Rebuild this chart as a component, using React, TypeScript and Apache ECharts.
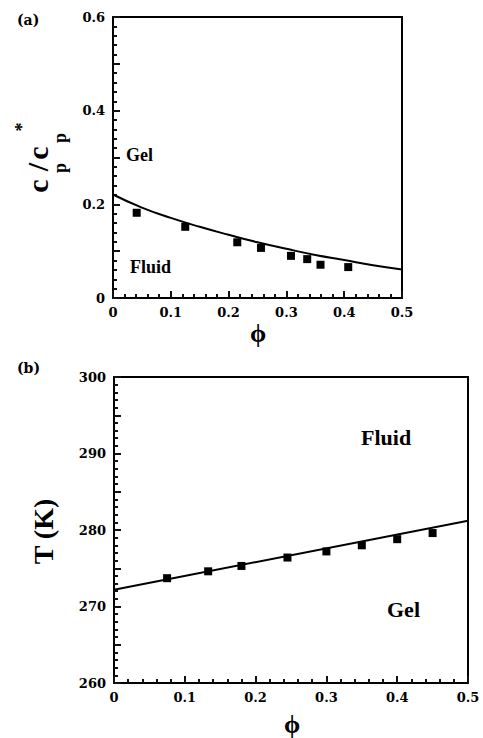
import React, { useEffect, useRef } from "react";
import * as echarts from "echarts";

// Panel (a): polymer concentration ratio vs volume fraction
const phiPointsA = [0.041, 0.125, 0.215, 0.256, 0.308, 0.336, 0.359, 0.407];
const ratioPointsA = [0.182, 0.152, 0.119, 0.107, 0.09, 0.083, 0.071, 0.066];
const phiCurveA = [0, 0.05, 0.1, 0.15, 0.2, 0.25, 0.3, 0.35, 0.4, 0.45, 0.5];
const ratioCurveA = [0.221, 0.193, 0.171, 0.152, 0.135, 0.119, 0.105, 0.092, 0.081, 0.07, 0.061];

// Panel (b): temperature vs volume fraction
const phiPointsB = [0.075, 0.133, 0.18, 0.245, 0.3, 0.35, 0.4, 0.45];
const tempPointsB = [273.7, 274.6, 275.3, 276.4, 277.2, 278.0, 278.8, 279.6];
const phiLineB = [0, 0.5];
const tempLineB = [272.2, 281.2];

const TICK_FONT = "DejaVu Serif";
const LABEL_FONT = "Liberation Serif";

function zip(a: number[], b: number[]) {
  return a.map((v, i) => [v, b[i]]);
}

export default function App() {
  const ref = useRef<HTMLDivElement>(null);
  useEffect(() => {
    document.body.style.margin = "0";
    if (!ref.current) return;
    const chart = echarts.init(ref.current, undefined, { renderer: "svg" });

    const mkAxis = (gridIndex: number, min: number, max: number, interval: number, formatter?: (v: number) => string) => {
      const label: any = { fontFamily: TICK_FONT, fontWeight: "bold", fontSize: 13, color: "#000" };
      if (formatter) label.formatter = formatter;
      return {
        type: "value",
        gridIndex,
        min,
        max,
        interval,
        axisLine: { show: true, lineStyle: { color: "#000", width: 2 } },
        axisTick: { show: true, inside: true, length: 7, lineStyle: { color: "#111", width: 2 } },
        minorTick: { show: true, splitNumber: 5, length: 4, lineStyle: { color: "#111", width: 2 } },
        splitLine: { show: false },
        axisLabel: label,
      };
    };

    const frameAxis = (gridIndex: number, min: number, max: number, position: string) => ({
      type: "value",
      gridIndex,
      min,
      max,
      position,
      axisLine: { show: true, onZero: false, lineStyle: { color: "#000", width: 2 } },
      axisTick: { show: false },
      axisLabel: { show: false },
      splitLine: { show: false },
    });

    const rotText = (text: string, x: number, y: number, size: number) => ({
      type: "text",
      x,
      y,
      rotation: Math.PI / 2,
      style: {
        text,
        fill: "#000",
        fontFamily: LABEL_FONT,
        fontWeight: "bold",
        fontSize: size,
        align: "center",
        verticalAlign: "middle",
      },
    });

    const plainText = (text: string, x: number, y: number, size: number, family = LABEL_FONT, align = "left") => ({
      type: "text",
      x,
      y,
      style: {
        text,
        fill: "#000",
        fontFamily: family,
        fontWeight: "bold",
        fontSize: size,
        align,
        verticalAlign: "middle",
      },
    });

    chart.setOption({
      animation: false,
      grid: [
        { left: 113, top: 17, width: 289, height: 281 },
        { left: 114, top: 377, width: 354, height: 306 },
      ],
      xAxis: [
        mkAxis(0, 0, 0.5, 0.1),
        mkAxis(1, 0, 0.5, 0.1),
        frameAxis(0, 0, 0.5, "top"),
        frameAxis(1, 0, 0.5, "top"),
      ],
      yAxis: [
        mkAxis(0, 0, 0.6, 0.1, (v: number) => (Math.round(v * 10) % 2 === 0 ? String(+v.toFixed(1)) : "")),
        mkAxis(1, 260, 300, 5, (v: number) => (Math.round(v) % 10 === 0 ? String(Math.round(v)) : "")),
        frameAxis(0, 0, 0.6, "right"),
        frameAxis(1, 260, 300, "right"),
      ],
      series: [
        {
          type: "line",
          xAxisIndex: 0,
          yAxisIndex: 0,
          data: zip(phiCurveA, ratioCurveA),
          smooth: true,
          showSymbol: false,
          lineStyle: { color: "#000", width: 2 },
        },
        {
          type: "scatter",
          xAxisIndex: 0,
          yAxisIndex: 0,
          data: zip(phiPointsA, ratioPointsA),
          symbol: "rect",
          symbolSize: 8,
          itemStyle: { color: "#000", opacity: 1 },
        },
        {
          type: "line",
          xAxisIndex: 1,
          yAxisIndex: 1,
          data: zip(phiLineB, tempLineB),
          showSymbol: false,
          lineStyle: { color: "#000", width: 2 },
        },
        {
          type: "scatter",
          xAxisIndex: 1,
          yAxisIndex: 1,
          data: zip(phiPointsB, tempPointsB),
          symbol: "rect",
          symbolSize: 8,
          itemStyle: { color: "#000", opacity: 1 },
        },
      ],
      graphic: [
        plainText("(a)", 17, 19.5, 14, TICK_FONT),
        plainText("(b)", 17, 367.5, 14, TICK_FONT),
        plainText("Gel", 126, 154.6, 18),
        plainText("Fluid", 130, 266.6, 18),
        plainText("Fluid", 361, 437.6, 22),
        plainText("Gel", 387, 609.3, 22),
        plainText("ϕ", 258, 333, 26, LABEL_FONT, "center"),
        plainText("ϕ", 292, 724, 26, LABEL_FONT, "center"),
        rotText("c", 37.5, 186, 30),
        rotText("/", 37.5, 167, 30),
        rotText("c", 37.5, 153, 30),
        rotText("p", 60.2, 168, 18),
        rotText("p", 60.2, 138, 18),
        rotText("*", 22, 127, 18),
        rotText("T (K)", 43.6, 531.5, 28),
      ],
    });
    return () => chart.dispose();
  }, []);
  return <div ref={ref} style={{ width: 483, height: 738 }} />;
}
